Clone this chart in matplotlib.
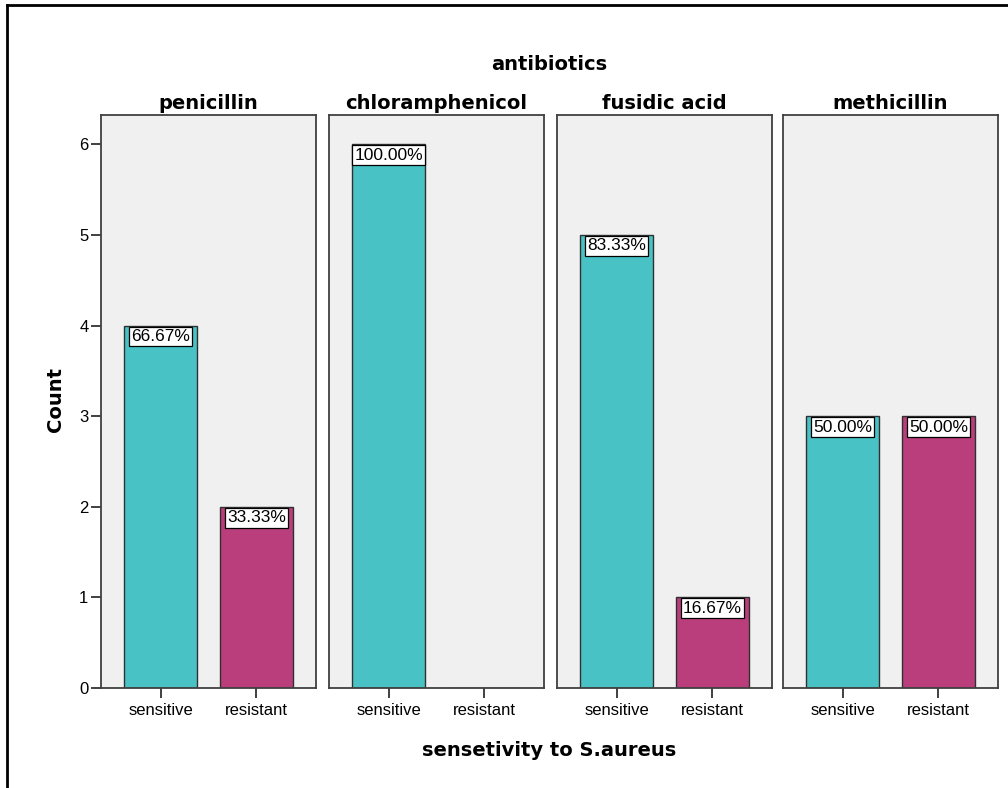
#!/usr/bin/env python3
"""Clustered bar panels: S. aureus sensitivity counts per antibiotic."""

import matplotlib
matplotlib.use("Agg")
import matplotlib.pyplot as plt
from matplotlib.lines import Line2D

antibiotics = ["penicillin", "chloramphenicol", "fusidic acid", "methicillin"]
categories = ["sensitive", "resistant"]
sensitive = [4, 6, 5, 3]
resistant = [2, 0, 1, 3]
y_ticks = [0, 1, 2, 3, 4, 5, 6]

TEAL = "#48C2C5"
MAGENTA = "#BA3E7C"
PANEL_BG = "#F0F0F0"
EDGE = "#303030"

W, H = 1008, 788
fig = plt.figure(figsize=(W / 100, H / 100), dpi=100)

# panel pixel geometry (left edges), shared width / vertical extent
panel_left = [101, 329, 557, 783]
panel_w = 215
top_px, bottom_px = 115, 688
px_per_unit = 90.6

tick_font = {"family": "Liberation Sans", "size": 12}
bold_font = {"family": "DejaVu Sans", "weight": "bold", "size": 14}

for i, name in enumerate(antibiotics):
    ax = fig.add_axes([panel_left[i] / W, 1 - bottom_px / H,
                       panel_w / W, (bottom_px - top_px) / H])
    ax.set_facecolor(PANEL_BG)
    counts = [sensitive[i], resistant[i]]
    total = sum(counts)
    x = [0, 1]
    ax.bar(x, counts, width=0.76, color=[TEAL, MAGENTA],
           edgecolor=EDGE, linewidth=1.0, zorder=2)
    for xi, c in zip(x, counts):
        if c == 0:
            continue
        ax.annotate(f"{c / total * 100:.2f}%", xy=(xi, c), xytext=(0, -2.4),
                    textcoords="offset points", ha="center", va="top",
                    fontfamily="Liberation Sans", fontsize=12.5, zorder=3,
                    bbox=dict(boxstyle="square,pad=0.14", fc="white",
                              ec="black", lw=0.9))
    ax.set_xlim(-0.62, 1.62)
    ax.set_ylim(0, (bottom_px - top_px) / px_per_unit)
    ax.set_xticks(x)
    ax.set_xticklabels(categories, fontdict=tick_font)
    ax.tick_params(axis="x", direction="out", length=7, width=1.2,
                   color="#202020", pad=4)
    for s in ax.spines.values():
        s.set_color("#404040")
        s.set_linewidth(1.3)
    if i == 0:
        ax.set_yticks(y_ticks)
        ax.set_yticklabels([str(t) for t in y_ticks], fontdict=tick_font)
        ax.tick_params(axis="y", direction="out", length=7, width=1.2,
                       color="#202020", pad=2)
    else:
        ax.set_yticks([])
    ax.set_title(name, pad=4, **bold_font)

fig.text(549 / W, 1 - 65 / H, "antibiotics", ha="center", va="center", **bold_font)
fig.text(55 / W, 1 - 400 / H, "Count", ha="center", va="center",
         rotation=90, **bold_font)
fig.text(549 / W, 1 - 751 / H, "sensetivity to S.aureus", ha="center",
         va="center", **bold_font)

# outer frame (top and left edges only visible)
fig.add_artist(Line2D([7 / W, 1], [1 - 5 / H, 1 - 5 / H], color="black",
                      lw=2, transform=fig.transFigure))
fig.add_artist(Line2D([7 / W, 7 / W], [0, 1 - 5 / H], color="black",
                      lw=2, transform=fig.transFigure))

fig.savefig("out.png", dpi=100)
